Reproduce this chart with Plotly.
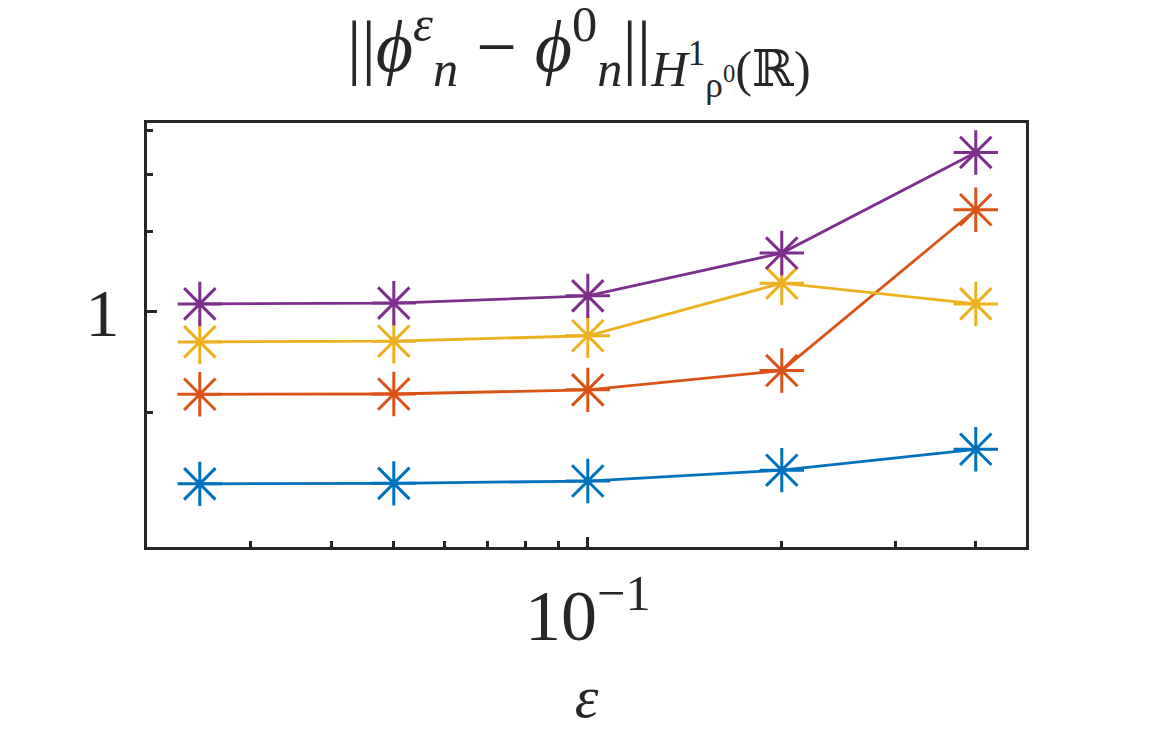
import plotly.graph_objects as go

# step sizes
eps = [0.025, 0.05, 0.1, 0.2, 0.4]

# norm of the difference, one series per eigenfunction
err_blue = [0.419, 0.420, 0.425, 0.449, 0.499]
err_orange = [0.659, 0.660, 0.674, 0.743, 1.676]
err_yellow = [0.859, 0.862, 0.886, 1.156, 1.041]
err_purple = [1.041, 1.045, 1.084, 1.346, 2.239]

x_minor = [0.03, 0.04, 0.05, 0.06, 0.07, 0.08, 0.09, 0.2, 0.3, 0.4]
y_minor = [0.6, 1.5, 2, 2.5]

ink = '#262626'
serif = 'Liberation Serif, DejaVu Serif, serif'

series = [
    (err_blue, '#0072BD'),
    (err_orange, '#D95319'),
    (err_yellow, '#EDB120'),
    (err_purple, '#7E2F8E'),
]

fig = go.Figure()
for vals, col in series:
    fig.add_trace(go.Scatter(
        x=eps, y=vals, mode='lines+markers',
        line=dict(color=col, width=2.8),
        marker=dict(symbol='asterisk-open', size=37,
                    line=dict(color=col, width=3)),
        showlegend=False))

title_txt = ('||<i>\u03d5</i><sup><i>\u03b5</i></sup><sub><i>n</i></sub>'
             ' \u2212 <i>\u03d5</i><sup>0</sup><sub><i>n</i></sub>||'
             '<sub><i>H</i><sup>1</sup><sub>\u03c1<sup>0</sup></sub>(\u211d)</sub>')

# page body adds 8px, so the figure is a bit smaller than the window
fig.update_layout(
    width=1142, height=742,
    paper_bgcolor='white', plot_bgcolor='white',
    margin=dict(l=139, r=124, t=115, b=203),
    font=dict(family=serif, color=ink),
    xaxis=dict(
        type='log', range=[-1.684, -0.320],
        showgrid=False, zeroline=False,
        showline=True, linecolor=ink, linewidth=3, mirror=True,
        ticks='inside', ticklen=10, tickwidth=2.5, tickcolor=ink,
        tickvals=[0.1], ticktext=['10<sup>\u22121</sup>'],
        tickfont=dict(size=72, family=serif, color=ink),
        ticklabelstandoff=4,
        minor=dict(tickvals=x_minor, ticks='inside', ticklen=6,
                   tickwidth=2.5, tickcolor=ink, showgrid=False),
        title=dict(text='<i>\u03b5</i>', font=dict(size=60, family=serif, color=ink),
                   standoff=20),
    ),
    yaxis=dict(
        type='log', range=[-0.5165, 0.4147],
        showgrid=False, zeroline=False,
        showline=True, linecolor=ink, linewidth=3, mirror=True,
        ticks='inside', ticklen=10, tickwidth=2.5, tickcolor=ink,
        tickvals=[1], ticktext=['1'],
        tickfont=dict(size=68, family=serif, color=ink),
        ticklabelstandoff=11,
        minor=dict(tickvals=y_minor, ticks='inside', ticklen=6,
                   tickwidth=2.5, tickcolor=ink, showgrid=False),
    ),
    annotations=[dict(
        xref='paper', yref='paper', x=0.5, y=1, xanchor='center', yanchor='bottom',
        yshift=16, xshift=-8, showarrow=False, text=title_txt,
        font=dict(size=72, family=serif, color=ink),
    )],
)

fig.write_html('out.html')
